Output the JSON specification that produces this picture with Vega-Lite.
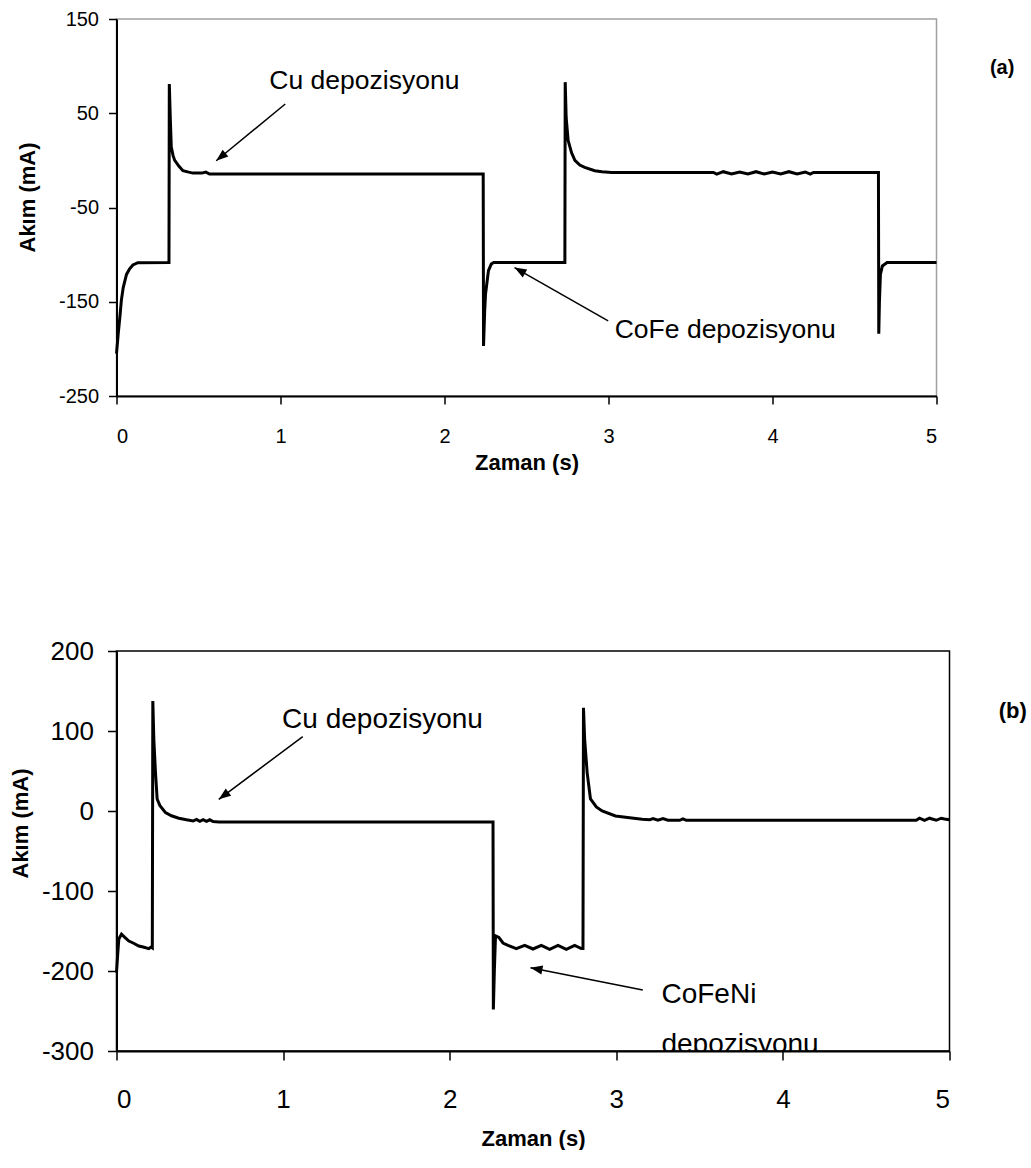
{
  "$schema": "https://vega.github.io/schema/vega-lite/v6.json",
  "background": "white",
  "padding": {"left": 8.5, "top": 8, "right": 0, "bottom": 0},
  "config": {"font": "Liberation Sans", "view": {"strokeWidth": 1.5}},
  "spacing": 163,
  "datasets": {
    "a": [
      {"t":0,"i":-205},{"t":0.01,"i":-185},{"t":0.02,"i":-167},{"t":0.03,"i":-148},{"t":0.041,"i":-135},
      {"t":0.061,"i":-121},{"t":0.08,"i":-115},{"t":0.1,"i":-111},{"t":0.13,"i":-108.5},{"t":0.32,"i":-108.4},
      {"t":0.322,"i":81},{"t":0.328,"i":45},{"t":0.334,"i":14},{"t":0.345,"i":5},{"t":0.355,"i":0},
      {"t":0.38,"i":-6},{"t":0.405,"i":-11},{"t":0.44,"i":-12.5},{"t":0.466,"i":-13.5},{"t":0.52,"i":-13.5},
      {"t":0.545,"i":-12.5},{"t":0.567,"i":-14.5},{"t":2.236,"i":-14.5},{"t":2.238,"i":-197},{"t":2.245,"i":-160},
      {"t":2.25,"i":-142},{"t":2.268,"i":-117},{"t":2.285,"i":-110},{"t":2.3,"i":-108.4},{"t":2.734,"i":-108.4},
      {"t":2.736,"i":83},{"t":2.742,"i":45},{"t":2.754,"i":21},{"t":2.775,"i":8},{"t":2.795,"i":0},
      {"t":2.825,"i":-5},{"t":2.855,"i":-7.5},{"t":2.916,"i":-11},{"t":2.96,"i":-12},{"t":3.02,"i":-12.8},
      {"t":3.64,"i":-12.8},{"t":3.66,"i":-14.5},{"t":3.7,"i":-12},{"t":3.75,"i":-14.5},{"t":3.8,"i":-12.3},
      {"t":3.85,"i":-14.5},{"t":3.9,"i":-12},{"t":3.95,"i":-14.5},{"t":4.0,"i":-12.3},{"t":4.05,"i":-14.5},
      {"t":4.1,"i":-12},{"t":4.15,"i":-14.5},{"t":4.2,"i":-12.3},{"t":4.23,"i":-14.5},{"t":4.25,"i":-12.8},
      {"t":4.646,"i":-12.8},{"t":4.648,"i":-184},{"t":4.652,"i":-150},{"t":4.658,"i":-121},{"t":4.67,"i":-112},
      {"t":4.699,"i":-108.4},{"t":5,"i":-108.4}
    ],
    "b": [
      {"t":0,"i":-202},{"t":0.007,"i":-180},{"t":0.014,"i":-160},{"t":0.03,"i":-154},{"t":0.05,"i":-158},
      {"t":0.074,"i":-162.5},{"t":0.1,"i":-165},{"t":0.134,"i":-168.7},{"t":0.16,"i":-170},{"t":0.194,"i":-172},
      {"t":0.208,"i":-170},{"t":0.215,"i":-171},{"t":0.218,"i":137.5},{"t":0.224,"i":90},{"t":0.234,"i":48},
      {"t":0.244,"i":15},{"t":0.26,"i":7},{"t":0.294,"i":-2},{"t":0.33,"i":-6},{"t":0.374,"i":-9},
      {"t":0.42,"i":-11},{"t":0.46,"i":-12.5},{"t":0.48,"i":-10.5},{"t":0.5,"i":-12.8},{"t":0.52,"i":-10.8},
      {"t":0.54,"i":-13},{"t":0.56,"i":-11},{"t":0.58,"i":-13.2},{"t":0.614,"i":-13.7},{"t":2.26,"i":-13.7},
      {"t":2.262,"i":-248},{"t":2.268,"i":-200},{"t":2.275,"i":-156},{"t":2.295,"i":-158},{"t":2.32,"i":-165},
      {"t":2.35,"i":-168},{"t":2.4,"i":-172},{"t":2.45,"i":-168},{"t":2.5,"i":-172.5},{"t":2.55,"i":-168},
      {"t":2.6,"i":-173},{"t":2.65,"i":-168},{"t":2.7,"i":-173},{"t":2.75,"i":-168},{"t":2.79,"i":-172},
      {"t":2.8,"i":-172},{"t":2.803,"i":129},{"t":2.81,"i":90},{"t":2.825,"i":48},{"t":2.845,"i":15},
      {"t":2.88,"i":5},{"t":2.915,"i":0},{"t":2.995,"i":-6.2},{"t":3.08,"i":-8.5},{"t":3.155,"i":-10.4},
      {"t":3.2,"i":-11},{"t":3.22,"i":-9.5},{"t":3.25,"i":-11.6},{"t":3.28,"i":-9.5},{"t":3.31,"i":-11.6},
      {"t":3.38,"i":-11.6},{"t":3.4,"i":-9.8},{"t":3.42,"i":-11.6},{"t":4.8,"i":-11.6},{"t":4.82,"i":-9},
      {"t":4.85,"i":-11.6},{"t":4.88,"i":-9},{"t":4.92,"i":-11.6},{"t":4.95,"i":-9},{"t":4.97,"i":-10},
      {"t":5,"i":-11}
    ],
    "arrowsA": [
      {"x1":1.029,"y1":59.8,"x2":0.608,"y2":-0.4},
      {"x1":2.998,"y1":-170.3,"x2":2.427,"y2":-113.7}
    ],
    "arrowsB": [
      {"x1":1.118,"y1":93,"x2":0.614,"y2":14.6},
      {"x1":3.159,"y1":-223.8,"x2":2.485,"y2":-195.8}
    ],
    "textA": [
      {"x":0.932,"y":75.7,"label":"Cu depozisyonu"},
      {"x":3.038,"y":-188,"label":"CoFe depozisyonu"}
    ],
    "textB": [
      {"x":0.994,"y":104,"label":"Cu depozisyonu"},
      {"x":3.271,"y":-240,"label":"CoFeNi"},
      {"x":3.271,"y":-302,"label":"depozisyonu"}
    ],
    "tagA": [{"x":5.4,"y":98,"label":"(a)"}],
    "tagB": [{"x":5.38,"y":125,"label":"(b)"}]
  },
  "vconcat": [
    {
      "width": 820,
      "height": 377,
      "view": {"stroke": "#a0a0a0", "strokeWidth": 1.5},
      "encoding": {
        "x": {"type": "quantitative", "scale": {"domain": [0, 5], "nice": false, "zero": false},
          "axis": {"values": [0,1,2,3,4,5], "title": "Zaman (s)", "grid": false, "labelExpr": "'' + datum.value",
            "labelFontSize": 20, "titleFontSize": 22, "titleFontWeight": "bold", "labelColor": "black", "titleColor": "black",
            "domainColor": "black", "domainWidth": 2, "tickColor": "black", "tickWidth": 1.5, "tickSize": 8,
            "labelPadding": 22, "titlePadding": 6}},
        "y": {"type": "quantitative", "scale": {"domain": [-250, 150], "nice": false, "zero": false},
          "axis": {"values": [-250,-150,-50,50,150], "title": "Akım (mA)", "grid": false, "labelExpr": "'' + datum.value",
            "labelFontSize": 20, "titleFontSize": 22, "titleFontWeight": "bold", "labelColor": "black", "titleColor": "black",
            "domainColor": "black", "domainWidth": 2, "tickColor": "black", "tickWidth": 1.5, "tickSize": 8,
            "labelPadding": 10, "titleX": -89, "titleY": 178, "titleBaseline": "middle"}}
      },
      "layer": [
        {"data": {"name": "a"}, "mark": {"type": "line", "color": "black", "strokeWidth": 3},
          "encoding": {"x": {"field": "t", "type": "quantitative"}, "y": {"field": "i", "type": "quantitative"}}},
        {"data": {"name": "arrowsA"}, "mark": {"type": "rule", "color": "black", "strokeWidth": 1.5},
          "encoding": {"x": {"field": "x1", "type": "quantitative"}, "y": {"field": "y1", "type": "quantitative"},
            "x2": {"field": "x2"}, "y2": {"field": "y2"}}},
        {"data": {"name": "arrowsA"}, "transform": [{"filter": "datum.x2 < 1"}],
          "mark": {"type": "point", "shape": "M0,0L0.6,1.6L-0.6,1.6Z", "filled": true, "color": "black", "opacity": 1, "size": 225, "angle": 230.6},
          "encoding": {"x": {"field": "x2", "type": "quantitative"}, "y": {"field": "y2", "type": "quantitative"}}},
        {"data": {"name": "arrowsA"}, "transform": [{"filter": "datum.x2 > 1"}],
          "mark": {"type": "point", "shape": "M0,0L0.6,1.6L-0.6,1.6Z", "filled": true, "color": "black", "opacity": 1, "size": 225, "angle": 299.6},
          "encoding": {"x": {"field": "x2", "type": "quantitative"}, "y": {"field": "y2", "type": "quantitative"}}},
        {"data": {"name": "textA"}, "mark": {"type": "text", "align": "left", "baseline": "alphabetic", "fontSize": 26.5, "color": "black"},
          "encoding": {"x": {"field": "x", "type": "quantitative"}, "y": {"field": "y", "type": "quantitative"}, "text": {"field": "label"}}},
        {"data": {"name": "tagA"}, "mark": {"type": "text", "align": "center", "baseline": "middle", "fontSize": 20, "fontWeight": "bold", "color": "black"},
          "encoding": {"x": {"field": "x", "type": "quantitative"}, "y": {"field": "y", "type": "quantitative"}, "text": {"field": "label"}}}
      ]
    },
    {
      "width": 833,
      "height": 400,
      "view": {"stroke": "black", "strokeWidth": 1.5},
      "encoding": {
        "x": {"type": "quantitative", "scale": {"domain": [0, 5], "nice": false, "zero": false},
          "axis": {"values": [0,1,2,3,4,5], "title": "Zaman (s)", "grid": false, "labelExpr": "'' + datum.value",
            "labelFontSize": 26, "titleFontSize": 22, "titleFontWeight": "bold", "labelColor": "black", "titleColor": "black",
            "domainColor": "black", "domainWidth": 2, "tickColor": "black", "tickWidth": 1.5, "tickSize": 9,
            "labelPadding": 26, "titlePadding": 16}},
        "y": {"type": "quantitative", "scale": {"domain": [-300, 200], "nice": false, "zero": false},
          "axis": {"values": [-300,-200,-100,0,100,200], "title": "Akım (mA)", "grid": false, "labelExpr": "'' + datum.value",
            "labelFontSize": 26, "titleFontSize": 22, "titleFontWeight": "bold", "labelColor": "black", "titleColor": "black",
            "domainColor": "black", "domainWidth": 2, "tickColor": "black", "tickWidth": 1.5, "tickSize": 9,
            "labelPadding": 14, "titleX": -96, "titleY": 172, "titleBaseline": "middle"}}
      },
      "layer": [
        {"data": {"name": "b"}, "mark": {"type": "line", "color": "black", "strokeWidth": 3},
          "encoding": {"x": {"field": "t", "type": "quantitative"}, "y": {"field": "i", "type": "quantitative"}}},
        {"data": {"name": "arrowsB"}, "mark": {"type": "rule", "color": "black", "strokeWidth": 1.5},
          "encoding": {"x": {"field": "x1", "type": "quantitative"}, "y": {"field": "y1", "type": "quantitative"},
            "x2": {"field": "x2"}, "y2": {"field": "y2"}}},
        {"data": {"name": "arrowsB"}, "transform": [{"filter": "datum.x2 < 1"}],
          "mark": {"type": "point", "shape": "M0,0L0.6,1.6L-0.6,1.6Z", "filled": true, "color": "black", "opacity": 1, "size": 225, "angle": 233.3},
          "encoding": {"x": {"field": "x2", "type": "quantitative"}, "y": {"field": "y2", "type": "quantitative"}}},
        {"data": {"name": "arrowsB"}, "transform": [{"filter": "datum.x2 > 1"}],
          "mark": {"type": "point", "shape": "M0,0L0.6,1.6L-0.6,1.6Z", "filled": true, "color": "black", "opacity": 1, "size": 225, "angle": 281.3},
          "encoding": {"x": {"field": "x2", "type": "quantitative"}, "y": {"field": "y2", "type": "quantitative"}}},
        {"data": {"name": "textB"}, "mark": {"type": "text", "align": "left", "baseline": "alphabetic", "fontSize": 28, "color": "black", "clip": true},
          "encoding": {"x": {"field": "x", "type": "quantitative"}, "y": {"field": "y", "type": "quantitative"}, "text": {"field": "label"}}},
        {"data": {"name": "tagB"}, "mark": {"type": "text", "align": "center", "baseline": "middle", "fontSize": 22, "fontWeight": "bold", "color": "black"},
          "encoding": {"x": {"field": "x", "type": "quantitative"}, "y": {"field": "y", "type": "quantitative"}, "text": {"field": "label"}}}
      ]
    }
  ]
}
